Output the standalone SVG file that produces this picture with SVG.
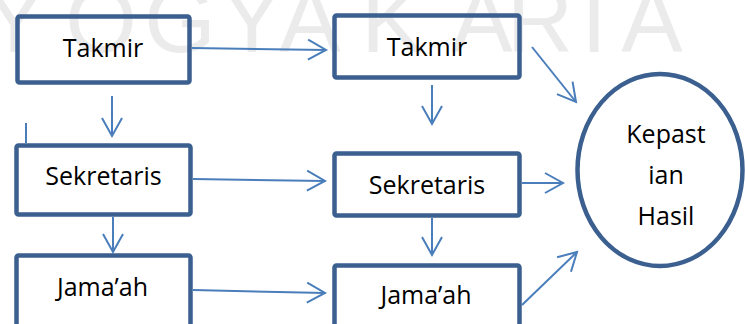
<svg xmlns="http://www.w3.org/2000/svg" width="745" height="324" viewBox="0 0 745 324">
<style>
.bg{fill:#ffffff}
.wm{font-family:"DejaVu Sans ExtraLight","Liberation Sans",Arial,sans-serif;font-weight:200;font-size:92px;fill:#ebebeb;text-anchor:middle}
.box{fill:none;stroke:#3b5f8f;stroke-width:4.5}
.lbl{font-family:"Open Sans","Noto Sans",sans-serif;font-size:25px;fill:#000000;text-anchor:middle}
.con{stroke:#4a7ebb;stroke-width:2;fill:none}
</style>
<defs>
<marker id="arr" markerUnits="userSpaceOnUse" orient="auto" overflow="visible" markerWidth="20" markerHeight="20" refX="0" refY="0">
<path d="M-18,-10 L0,0 L-18,10" fill="none" stroke="#4a7ebb" stroke-width="2"/>
</marker>
</defs>
<rect class="bg" x="0" y="0" width="745" height="324"/>
<g id="watermark">
<text class="wm" x="15 101 180 252 310 392 482 540 594 652" y="52">YOGYAKARTA</text>
</g>
<g id="connectors">
<line class="con" x1="192" y1="48" x2="326" y2="50" marker-end="url(#arr)"/>
<line class="con" x1="112" y1="96" x2="112" y2="136" marker-end="url(#arr)"/>
<line class="con" x1="193" y1="179" x2="325" y2="181" marker-end="url(#arr)"/>
<line class="con" x1="113" y1="217" x2="113" y2="252" marker-end="url(#arr)"/>
<line class="con" x1="193" y1="290" x2="325" y2="293" marker-end="url(#arr)"/>
<line class="con" x1="432" y1="85" x2="432" y2="124" marker-end="url(#arr)"/>
<line class="con" x1="432" y1="218" x2="432" y2="255" marker-end="url(#arr)"/>
<line class="con" x1="532" y1="47" x2="576" y2="102" marker-end="url(#arr)"/>
<line class="con" x1="522" y1="183" x2="563" y2="183" marker-end="url(#arr)"/>
<line class="con" x1="522" y1="305" x2="577" y2="252" marker-end="url(#arr)"/>
<line class="con" x1="26" y1="123" x2="26" y2="143"/>
</g>
<g id="takmir1">
<rect class="box" x="17.5" y="16.5" width="172" height="66" rx="2"/>
<text class="lbl" x="103" y="57">Takmir</text>
</g>
<g id="takmir2">
<rect class="box" x="334.5" y="15.5" width="185" height="62" rx="2"/>
<text class="lbl" x="427" y="56">Takmir</text>
</g>
<g id="sekretaris1">
<rect class="box" x="16.5" y="145.5" width="174" height="69" rx="2"/>
<text class="lbl" x="103.5" y="185">Sekretaris</text>
</g>
<g id="sekretaris2">
<rect class="box" x="334.5" y="153.5" width="185" height="62" rx="2"/>
<text class="lbl" x="427" y="194">Sekretaris</text>
</g>
<g id="jamaah1">
<rect class="box" x="16.5" y="255.5" width="174" height="80" rx="2"/>
<text class="lbl" x="102.5" y="296">Jama’ah</text>
</g>
<g id="jamaah2">
<rect class="box" x="334.5" y="265.5" width="185" height="70" rx="2"/>
<text class="lbl" x="426" y="304">Jama’ah</text>
</g>
<g id="kepastian">
<ellipse class="box" cx="660" cy="170" rx="82.5" ry="96"/>
<text class="lbl" x="666" y="143">Kepast</text>
<text class="lbl" x="666" y="184">ian</text>
<text class="lbl" x="666" y="225">Hasil</text>
</g>
</svg>
